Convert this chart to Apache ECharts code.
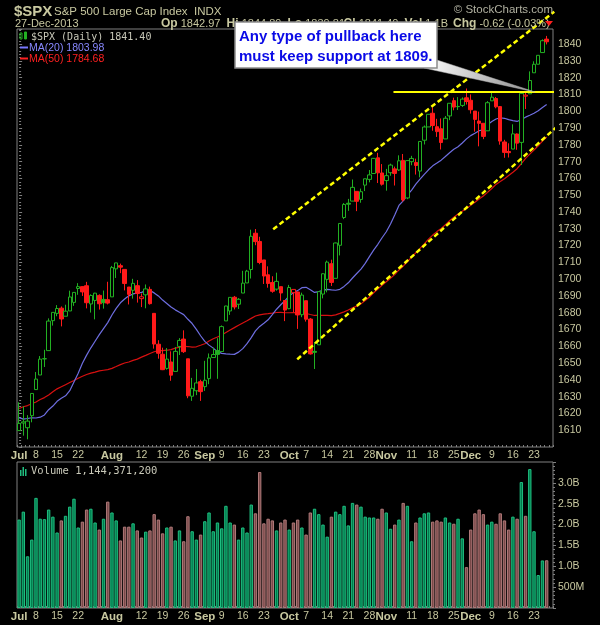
<!DOCTYPE html>
<html>
<head>
<meta charset="utf-8">
<script src="https://cdn.jsdelivr.net/npm/echarts@6.0.0/dist/echarts.min.js"></script>
<style>
html,body{margin:0;padding:0;background:#000;overflow:hidden;}
#chart{width:600px;height:625px;}
</style>
</head>
<body>
<div id="chart"></div>
<script>
// ---------------- data ----------------
const julDays=[1,2,3,5,8,9,10,11,12,15,16,17,18,19,22,23,24,25,26,29,30,31];
const augDays=[1,2,5,6,7,8,9,12,13,14,15,16,19,20,21,22,23,26,27,28,29,30];
const sepDays=[3,4,5,6,9,10,11,12,13,16,17,18,19,20,23,24,25,26,27,30];
const octDays=[1,2,3,4,7,8,9,10,11,14,15,16,17,18,21,22,23,24,25,28,29,30,31];
const novDays=[1,4,5,6,7,8,11,12,13,14,15,18,19,20,21,22,25,26,27,29];
const decDays=[2,3,4,5,6,9,10,11,12,13,16,17,18,19,20,23,24,26,27];

const tickDates=['07-01','07-08','07-15','07-22','08-01','08-12','08-19','08-26','09-03','09-09','09-16','09-23','10-01','10-07','10-14','10-21','10-28','11-01','11-11','11-18','11-25','12-02','12-09','12-16','12-23'];
const tickTexts=['Jul','8','15','22','Aug','12','19','26','Sep','9','16','23','Oct','7','14','21','28','Nov','11','18','25','Dec','9','16','23'];

const prevClose=1606.28;
const opens=[1609.78,1614.29,1611.48,1618.65,1634.20,1642.89,1652.50,1657.41,1675.26,1679.59,
1682.70,1677.91,1681.05,1686.15,1694.41,1695.53,1696.06,1685.21,1687.31,1690.32,
1687.92,1687.76,1689.42,1706.10,1708.01,1705.79,1695.30,1693.35,1696.10,1688.37,
1690.65,1693.88,1679.61,1661.22,1655.25,1646.81,1650.66,1645.03,1659.92,1664.29,
1652.54,1630.25,1633.50,1638.89,1635.95,1640.72,1653.28,1657.44,1656.85,1675.11,
1681.04,1689.21,1685.04,1691.70,1697.73,1705.74,1727.34,1722.44,1711.44,1702.60,
1698.02,1694.05,1695.52,1687.26,1682.41,1691.90,1692.35,1678.79,1687.15,1676.22,
1656.99,1660.88,1691.09,1699.86,1709.17,1700.49,1720.17,1736.72,1745.20,1746.48,
1752.27,1747.48,1756.01,1759.42,1762.93,1772.27,1763.24,1758.70,1763.40,1765.67,
1765.00,1770.74,1748.37,1769.96,1769.51,1764.37,1782.75,1790.66,1798.82,1790.79,
1789.59,1783.52,1797.21,1806.33,1802.87,1803.48,1808.01,1806.55,1800.10,1794.15,
1792.82,1788.36,1806.21,1807.60,1802.76,1781.71,1776.04,1777.48,1786.47,1781.46,
1809.00,1810.39,1822.92,1828.02,1834.96,1842.97];
const highs=[1626.61,1624.26,1618.97,1632.07,1644.68,1654.18,1657.92,1676.63,1680.19,1684.51,
1683.73,1684.75,1693.12,1692.09,1697.61,1695.77,1698.38,1690.94,1691.85,1690.92,
1693.19,1698.43,1707.85,1709.67,1709.24,1705.79,1695.30,1700.18,1699.42,1691.49,
1696.81,1695.52,1679.61,1663.60,1659.18,1658.92,1656.99,1659.55,1664.85,1669.51,
1652.54,1641.18,1646.41,1640.08,1651.35,1655.72,1659.17,1664.83,1672.40,1684.09,
1689.13,1689.97,1688.73,1704.95,1705.52,1729.44,1729.86,1725.23,1711.44,1707.63,
1701.71,1703.85,1695.52,1687.26,1696.55,1693.87,1692.35,1691.94,1687.15,1676.79,
1662.47,1692.56,1703.44,1711.03,1711.57,1721.76,1733.45,1745.31,1747.79,1759.33,
1752.27,1753.94,1759.82,1764.99,1772.09,1775.22,1768.53,1765.67,1768.78,1767.03,
1773.74,1774.54,1770.78,1773.44,1771.78,1782.00,1791.53,1798.22,1802.33,1795.51,
1795.73,1797.16,1804.84,1808.10,1808.42,1808.27,1813.55,1810.02,1800.10,1799.80,
1792.82,1806.04,1811.52,1808.52,1803.02,1782.99,1780.92,1792.22,1786.77,1811.08,
1810.88,1823.75,1829.75,1833.32,1842.84,1844.89];
const lows=[1609.78,1606.77,1604.57,1614.71,1634.20,1642.89,1647.66,1657.41,1672.33,1677.89,
1671.84,1677.91,1681.05,1684.08,1690.67,1689.98,1682.57,1680.07,1676.03,1681.86,
1682.42,1684.94,1689.42,1700.68,1703.55,1693.29,1684.91,1688.38,1686.02,1683.35,
1682.62,1684.83,1658.59,1652.61,1645.80,1646.08,1639.43,1645.03,1654.81,1656.02,
1629.05,1627.47,1630.88,1627.47,1633.41,1637.41,1653.07,1640.62,1656.85,1675.11,
1678.70,1681.96,1682.22,1691.70,1697.73,1700.35,1720.20,1708.89,1697.10,1694.90,
1691.88,1693.11,1687.11,1674.99,1682.07,1680.34,1670.36,1677.33,1674.70,1655.03,
1646.47,1660.88,1688.52,1692.13,1695.93,1700.49,1714.12,1735.74,1740.67,1746.48,
1740.50,1745.50,1752.45,1757.67,1762.93,1757.24,1755.72,1752.70,1761.56,1755.76,
1764.40,1746.20,1747.63,1767.85,1762.29,1760.64,1780.22,1790.66,1788.39,1784.72,
1777.23,1783.52,1794.70,1800.58,1800.77,1802.59,1803.98,1798.60,1787.85,1779.09,
1783.38,1788.36,1806.21,1801.75,1780.09,1772.28,1772.45,1777.48,1777.05,1767.99,
1801.35,1810.25,1822.92,1828.02,1834.96,1839.81];
const closes=[1614.08,1614.96,1615.41,1631.89,1640.46,1652.32,1652.62,1675.02,1680.19,1682.50,
1676.26,1680.91,1689.37,1692.09,1695.53,1692.39,1685.94,1690.25,1691.65,1685.33,
1685.96,1685.73,1706.87,1709.67,1707.14,1697.37,1690.91,1697.48,1691.42,1689.47,
1694.16,1685.39,1661.32,1655.83,1646.06,1652.35,1642.80,1656.96,1663.50,1656.78,
1630.48,1634.96,1638.17,1632.97,1639.77,1653.08,1655.08,1655.17,1671.71,1683.99,
1689.13,1683.42,1687.99,1697.60,1704.76,1725.52,1722.34,1709.91,1701.84,1697.42,
1692.77,1698.67,1691.75,1681.55,1695.00,1693.87,1678.66,1690.50,1676.12,1655.45,
1656.40,1692.56,1703.20,1710.14,1698.06,1721.54,1733.15,1744.50,1744.66,1754.67,
1746.38,1752.07,1759.77,1762.11,1771.95,1763.31,1756.54,1761.64,1767.93,1762.97,
1770.49,1747.15,1770.61,1771.89,1767.69,1782.00,1790.62,1798.18,1791.53,1787.87,
1781.37,1795.85,1804.76,1802.48,1802.75,1807.23,1805.81,1800.90,1795.15,1792.81,
1785.03,1805.09,1808.37,1802.62,1782.22,1775.50,1775.32,1786.54,1781.00,1810.65,
1809.60,1818.32,1827.99,1833.32,1842.02,1841.40];
// volume in billions of shares
const volumes=[2.12,2.31,1.24,1.64,2.64,2.14,2.13,2.36,2.19,1.81,
2.10,2.21,2.43,2.62,1.93,2.07,2.36,2.38,2.05,1.88,
2.14,2.55,2.29,2.10,1.62,1.95,1.95,2.03,1.86,1.69,
1.83,1.86,2.25,2.12,1.79,1.93,1.95,1.62,1.86,1.60,
2.20,1.84,1.64,1.76,2.08,2.29,1.84,2.05,1.91,2.45,
2.05,2.00,1.64,1.93,1.81,2.48,2.27,3.26,2.03,2.14,
2.10,1.86,2.05,2.12,1.88,2.05,2.12,1.93,1.76,2.29,
2.38,2.25,2.00,1.71,2.19,2.31,2.25,2.45,1.98,2.52,
2.48,2.43,2.19,2.17,2.17,2.14,2.38,2.29,1.90,2.00,
2.12,2.52,2.45,1.60,2.05,2.17,2.27,2.29,2.07,2.10,
2.07,2.17,2.05,2.02,2.14,1.67,0.98,1.88,2.27,2.36,
2.25,2.00,2.07,2.02,2.27,2.10,1.88,2.19,2.14,3.02,
2.21,3.33,1.84,0.79,1.14,1.1443712];
const ma20=[1617.46,1616.63,1616.96,1617.43,1617.28,1617.76,1619.08,1622.21,1624.40,1627.19,
1629.05,1630.50,1633.52,1638.72,1643.87,1649.84,1654.73,1659.08,1663.01,1666.96,
1670.55,1674.09,1678.66,1682.55,1685.89,1688.14,1690.05,1691.18,1691.74,1692.09,
1692.98,1693.21,1691.80,1689.99,1687.52,1685.52,1683.36,1681.69,1680.29,1678.86,
1676.08,1673.55,1670.11,1666.28,1662.91,1660.69,1658.90,1656.79,1655.80,1655.53,
1655.28,1655.18,1656.51,1658.60,1661.53,1665.19,1669.17,1671.82,1673.73,1675.77,
1678.88,1682.07,1684.74,1687.17,1689.94,1691.97,1693.15,1694.92,1695.14,1693.71,
1692.08,1692.53,1693.29,1693.92,1693.59,1693.39,1693.93,1695.66,1697.80,1700.66,
1703.34,1706.01,1709.41,1713.44,1717.29,1720.76,1724.65,1728.21,1732.80,1738.18,
1743.88,1746.61,1749.98,1753.07,1756.55,1759.57,1762.45,1765.13,1767.48,1769.14,
1770.88,1773.07,1775.32,1777.34,1778.88,1781.08,1783.54,1785.50,1786.87,1788.36,
1789.08,1791.98,1793.87,1795.41,1796.13,1795.81,1795.04,1794.46,1793.93,1795.07,
1796.48,1797.61,1798.77,1800.31,1802.27,1803.98];
const ma50=[1622.90,1623.95,1624.68,1625.74,1626.85,1628.25,1629.43,1630.98,1632.93,1634.63,
1635.86,1637.13,1638.40,1639.59,1640.97,1642.14,1643.18,1643.98,1644.64,1645.34,
1645.71,1646.09,1646.85,1647.94,1649.07,1650.02,1650.64,1651.62,1652.36,1653.54,
1654.61,1655.69,1656.74,1657.41,1657.46,1657.65,1657.98,1658.87,1659.42,1660.02,
1659.85,1659.51,1659.69,1660.59,1661.54,1663.14,1664.48,1665.51,1666.68,1668.24,
1669.74,1671.11,1672.56,1673.87,1675.16,1676.62,1678.02,1678.72,1679.15,1679.45,
1679.78,1680.13,1680.18,1679.97,1679.96,1679.99,1679.84,1679.85,1679.54,1678.94,
1678.35,1678.49,1678.41,1678.42,1678.24,1678.72,1679.57,1680.51,1681.57,1682.88,
1683.92,1685.26,1687.23,1689.35,1691.87,1694.09,1696.36,1698.46,1700.54,1702.67,
1705.47,1707.71,1710.36,1713.14,1715.70,1718.28,1720.99,1723.85,1726.24,1728.32,
1730.17,1732.41,1734.75,1736.85,1738.81,1740.44,1742.11,1743.93,1745.80,1747.71,
1749.55,1751.68,1754.01,1756.43,1758.18,1759.81,1761.74,1763.66,1765.76,1768.87,
1771.93,1774.44,1776.94,1779.40,1782.28,1784.68];
// drawn annotations: [bar index, price]
const upperChannel=[[60.2,1729.7],[126.8,1859.3]];
const lowerChannel=[[65.9,1652.2],[129.2,1794.8]];
const supportLine=[[88.7,1811.5],[129.6,1811.5]];
const calloutLines=['Any type of pullback here','must keep support at 1809.'];

// ---------------- build ----------------
const pad=d=>(d<10?'0':'')+d;
const dates=[].concat(
  julDays.map(d=>'07-'+pad(d)),augDays.map(d=>'08-'+pad(d)),sepDays.map(d=>'09-'+pad(d)),
  octDays.map(d=>'10-'+pad(d)),novDays.map(d=>'11-'+pad(d)),decDays.map(d=>'12-'+pad(d)));
const cats=dates.concat(['']);
const N=closes.length;

const TXT='#c8c8a0';
const GREEN='#22b022', RED='#ff1a1a';
const FRAME='#808080';
const FONT='"Liberation Sans", Arial, sans-serif';
const MONO='"DejaVu Sans Mono", monospace';

const candleData=closes.map((c,i)=>{
  const prev=i===0?prevClose:closes[i-1];
  const col=c>=prev?GREEN:RED;
  const fill=c>opens[i]?'#000':col;
  return {value:[opens[i],c,lows[i],highs[i]],itemStyle:{color:fill,color0:fill,borderColor:col,borderColor0:col,borderWidth:1}};
});
const volData=volumes.map((v,i)=>{
  const prev=i===0?prevClose:closes[i-1];
  const up=closes[i]>=prev;
  return {value:v*1e9,itemStyle:{color:up?'#007a4c':'#7a4848',borderColor:up?'#1fbf80':'#b07a7a',borderWidth:1}};
});

const labelMap={};
tickDates.forEach((d,k)=>labelMap[d]=tickTexts[k]);
const xLabel={
  interval:0, margin:3,
  formatter:(v)=>{const t=labelMap[v]; if(!t) return ''; return isNaN(+t)?'{m|'+t+'}':'{d|'+t+'}';},
  rich:{m:{fontFamily:FONT,fontWeight:'bold',fontSize:11.5,color:TXT},d:{fontFamily:FONT,fontSize:10.5,color:TXT}}
};
const xTick={show:true,inside:true,length:2,interval:0,lineStyle:{color:FRAME}};

const last=N-1;
const chg=closes[last]-closes[last-1];
const fmtInt=n=>Math.round(n).toString().replace(/\B(?=(\d{3})+(?!\d))/g,',');

const chart=echarts.init(document.getElementById('chart'),null,{renderer:'canvas'});
chart.setOption({
  backgroundColor:'#000',
  animation:false,
  textStyle:{fontFamily:FONT},
  grid:[
    {left:17,right:47,top:29,height:418,show:true,borderColor:FRAME,borderWidth:1,backgroundColor:'#000'},
    {left:17,right:47,top:462,height:146,show:true,borderColor:FRAME,borderWidth:1,backgroundColor:'#000'}
  ],
  xAxis:[
    {type:'category',gridIndex:0,data:cats,boundaryGap:true,axisLine:{show:false},axisTick:xTick,axisLabel:xLabel,splitLine:{show:false}},
    {type:'category',gridIndex:1,data:cats,boundaryGap:true,axisLine:{show:false},axisTick:xTick,axisLabel:xLabel,splitLine:{show:false}},
    {type:'value',gridIndex:0,min:-0.5,max:cats.length-0.5,show:false}
  ],
  yAxis:[
    {type:'value',gridIndex:0,position:'right',min:1600,max:1849,interval:10,
     axisLine:{show:false},axisTick:{show:true,length:3,lineStyle:{color:FRAME}},
     minorTick:{show:true,splitNumber:5,length:2,lineStyle:{color:FRAME}},
     axisLabel:{margin:5,color:TXT,fontSize:10.5,fontFamily:FONT,showMinLabel:false,showMaxLabel:false,
       formatter:v=>String(Math.round(v))},
     splitLine:{show:false}},
    {type:'value',gridIndex:1,position:'right',min:0,max:3.5e9,interval:0.5e9,
     axisLine:{show:false},axisTick:{show:true,length:3,lineStyle:{color:FRAME}},
     minorTick:{show:true,splitNumber:5,length:2,lineStyle:{color:FRAME}},
     axisLabel:{margin:5,color:TXT,fontSize:10.5,fontFamily:FONT,showMinLabel:false,showMaxLabel:false,
       formatter:v=>v>=1e9?(v/1e9).toFixed(1)+'B':Math.round(v/1e6)+'M'},
     splitLine:{show:false}}
  ],
  series:[
    {type:'line',name:'MA(50)',xAxisIndex:0,yAxisIndex:0,data:ma50,showSymbol:false,symbol:'none',z:2,
     lineStyle:{color:'#d81010',width:1.2}},
    {type:'line',name:'MA(20)',xAxisIndex:0,yAxisIndex:0,data:ma20,showSymbol:false,symbol:'none',z:2,
     lineStyle:{color:'#6e6ee0',width:1.2}},
    {type:'candlestick',name:'$SPX',xAxisIndex:0,yAxisIndex:0,data:candleData,barWidth:4,z:3},
    {type:'bar',name:'Volume',xAxisIndex:1,yAxisIndex:1,data:volData,barCategoryGap:'20%'},
    {type:'line',xAxisIndex:2,yAxisIndex:0,data:upperChannel,symbol:'none',clip:false,z:5,
     lineStyle:{color:'#ffff00',width:2.5,type:[5,3]}},
    {type:'line',xAxisIndex:2,yAxisIndex:0,data:lowerChannel,symbol:'none',clip:false,z:5,
     lineStyle:{color:'#ffff00',width:2.5,type:[5,3]}},
    {type:'line',xAxisIndex:2,yAxisIndex:0,data:supportLine,symbol:'none',clip:false,z:5,
     lineStyle:{color:'#ffff00',width:2}}
  ],
  graphic:[
    {type:'text',x:14,y:12,z:50,style:{text:'$SPX',font:'bold 15px '+FONT,fill:TXT,verticalAlign:'middle'}},
    {type:'text',x:54,y:12,z:50,style:{text:'S&P 500 Large Cap Index  INDX',font:'11.5px '+FONT,fill:TXT,verticalAlign:'middle'}},
    {type:'text',x:553,y:10,z:50,style:{text:'\u00A9 StockCharts.com',font:'11.5px '+FONT,fill:'#b0b0a0',align:'right',verticalAlign:'middle'}},
    {type:'text',x:15,y:24,z:50,style:{text:'27-Dec-2013',font:'11px '+FONT,fill:TXT,verticalAlign:'middle'}},
    {type:'text',x:161,y:24,z:50,style:{
      text:'{b|Op} '+opens[last].toFixed(2)+'  {b|Hi} '+highs[last].toFixed(2)+'  {b|Lo} '+lows[last].toFixed(2),
      font:'11px '+FONT,fill:TXT,verticalAlign:'middle',rich:{b:{font:'bold 12px '+FONT,fill:TXT}}}},
    {type:'text',x:448,y:24,z:50,style:{
      text:'{b|Cl} '+closes[last].toFixed(2)+'  {b|Vol} '+(volumes[last]).toFixed(1)+'B',
      font:'11px '+FONT,fill:TXT,align:'right',verticalAlign:'middle',rich:{b:{font:'bold 12px '+FONT,fill:TXT}}}},
    {type:'text',x:453,y:24,z:50,style:{
      text:'{b|Chg} '+chg.toFixed(2)+' ('+(chg/closes[last-1]*100).toFixed(2)+'%)',
      font:'11px '+FONT,fill:TXT,verticalAlign:'middle',rich:{b:{font:'bold 12px '+FONT,fill:TXT}}}},
    {type:'polygon',z:50,shape:{points:[[545,21],[553,21],[549,26]]},style:{fill:'#ff2020'}},
    // legend inside price panel
    {type:'rect',z:50,shape:{x:20,y:33,width:2,height:6},style:{fill:'none',stroke:GREEN,lineWidth:1}},
    {type:'rect',z:50,shape:{x:24.5,y:32,width:2,height:7},style:{fill:GREEN,stroke:GREEN,lineWidth:1}},
    {type:'text',x:31,y:37,z:50,style:{text:'$SPX (Daily) '+closes[last].toFixed(2),font:'10px '+MONO,fill:'#c8c8b8',verticalAlign:'middle'}},
    {type:'line',z:50,shape:{x1:20,y1:47.5,x2:28,y2:47.5},style:{stroke:'#7878ff',lineWidth:2}},
    {type:'text',x:29,y:48,z:50,style:{text:'MA(20) '+ma20[last].toFixed(2),font:'10.5px '+FONT,fill:'#8888ff',verticalAlign:'middle'}},
    {type:'line',z:50,shape:{x1:20,y1:58.5,x2:28,y2:58.5},style:{stroke:'#ff2020',lineWidth:2}},
    {type:'text',x:29,y:59,z:50,style:{text:'MA(50) '+ma50[last].toFixed(2),font:'10.5px '+FONT,fill:'#ff2020',verticalAlign:'middle'}},
    // volume label
    {type:'rect',z:50,shape:{x:20,y:470,width:1.5,height:6},style:{fill:'#1fbf80'}},
    {type:'rect',z:50,shape:{x:22.5,y:467,width:1.5,height:9},style:{fill:'#1fbf80'}},
    {type:'rect',z:50,shape:{x:25,y:469,width:1.5,height:7},style:{fill:'#1fbf80'}},
    {type:'text',x:31,y:471,z:50,style:{text:'Volume '+fmtInt(volumes[last]*1e9),font:'10.5px '+MONO,fill:'#c8c8b8',verticalAlign:'middle'}},
    // callout pointer and box
    {type:'polygon',z:60,shape:{points:[[437,60],[424,68],[535,92]]},
     style:{fill:new echarts.graphic.LinearGradient(0,0,1,1,[{offset:0,color:'#ffffff'},{offset:1,color:'#8a8a8a'}]),stroke:'#bbbbbb',lineWidth:0.5}},
    {type:'rect',z:61,shape:{x:235,y:22,width:202,height:46},style:{fill:'#ffffff',stroke:'#8c8c8c',lineWidth:1.5}},
    {type:'text',x:239,y:37,z:62,style:{text:calloutLines[0],font:'bold 15px '+FONT,fill:'#0a0ae6',verticalAlign:'middle'}},
    {type:'text',x:239,y:57,z:62,style:{text:calloutLines[1],font:'bold 15px '+FONT,fill:'#0a0ae6',verticalAlign:'middle'}}
  ]
});
</script>
</body>
</html>
